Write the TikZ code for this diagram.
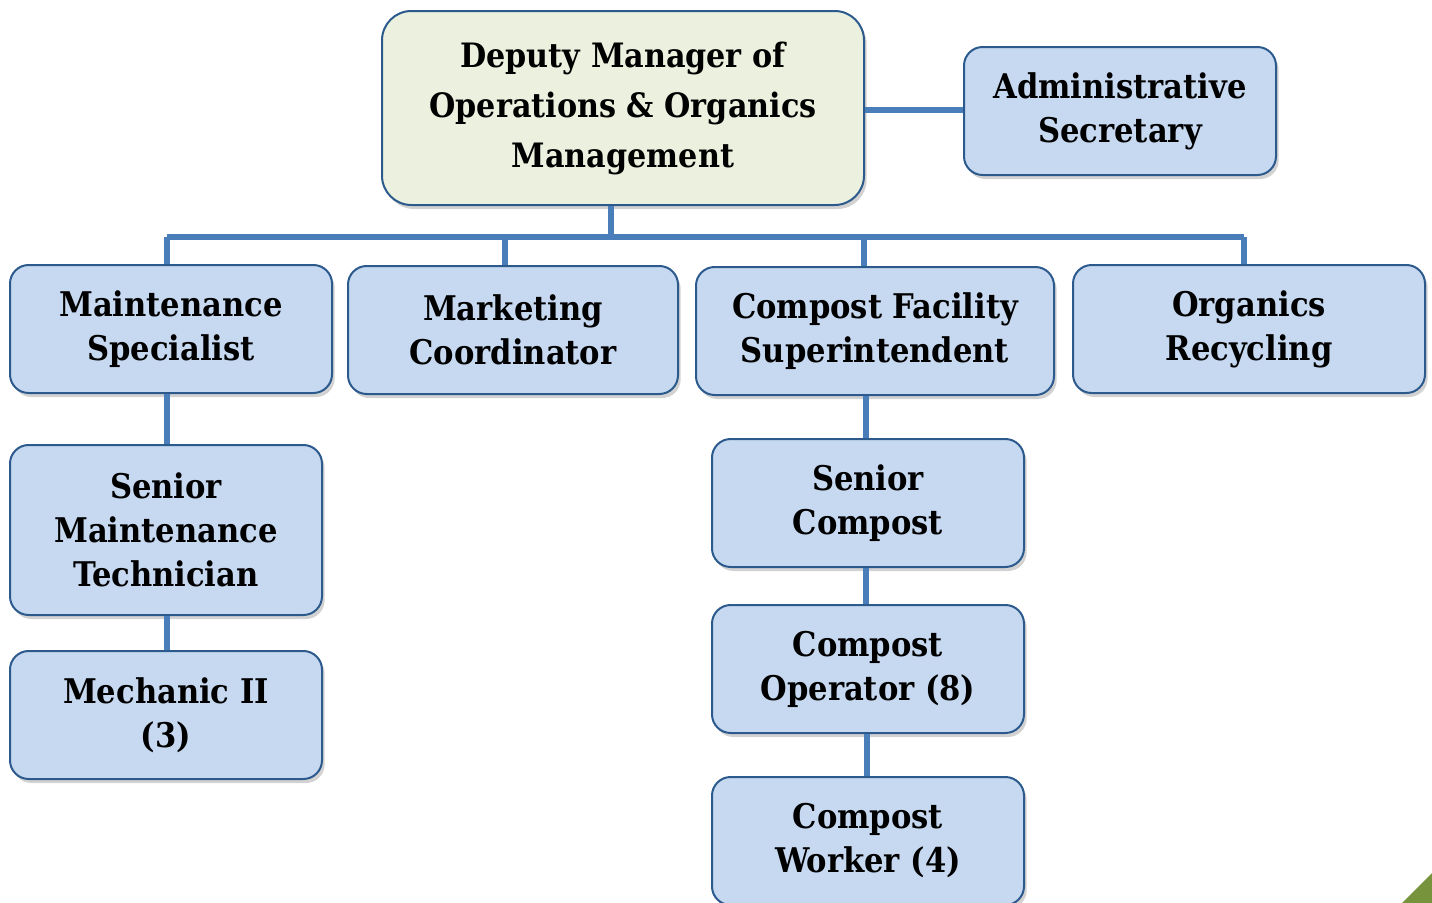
\documentclass[tikz,border=0pt]{standalone}
\usepackage{fontspec}
\setmainfont{DejaVu Serif Condensed}
\usetikzlibrary{shadows}
\definecolor{boxblue}{HTML}{C6D9F1}
\definecolor{boxgreen}{HTML}{EBF1DE}
\definecolor{edgeblue}{HTML}{2C5A8C}
\definecolor{linkblue}{HTML}{4A7EBB}
\definecolor{cornergreen}{HTML}{77933C}
\begin{document}
\begin{tikzpicture}[x=0.75pt,y=-0.75pt,
  box/.style 2 args={draw=edgeblue, line width=1.5pt, fill=boxblue, rounded corners=14pt,
    minimum width=#1*0.75pt, minimum height=#2*0.75pt, align=center, inner sep=0pt,
    font=\fontsize{25.5}{33}\selectfont\bfseries,
    drop shadow={opacity=0.35, shadow xshift=2pt, shadow yshift=-3pt}},
  link/.style={draw=linkblue, line width=4.2pt}]
\clip (0,0) rectangle (1432,903);
\fill[white] (0,0) rectangle (1432,903);
% nodes
\node[box={482}{194}, fill=boxgreen, rounded corners=22pt, font=\fontsize{25.2}{37.5}\selectfont\bfseries] (dm) at (623,108) {Deputy Manager of\\Operations \& Organics\\Management};
\node[box={312}{128}] (as) at (1120,111) {Administrative\\Secretary};
\node[box={322}{128}] (ms) at (171,329) {Maintenance\\Specialist};
\node[box={330}{128}] (mc) at (513,330) {Marketing\\Coordinator};
\node[box={358}{128}] (cf) at (875,331) {Compost Facility\\Superintendent};
\node[box={352}{128}] (or) at (1249,329) {Organics\\Recycling};
\node[box={312}{170}] (smt) at (166,530) {Senior\\Maintenance\\Technician};
\node[box={312}{128}] (mech) at (166,715) {Mechanic II\\(3)};
\node[box={312}{128}] (sc) at (868,503) {Senior\\Compost};
\node[box={312}{128}] (co) at (868,669) {Compost\\Operator (8)};
\node[box={312}{128}] (cw) at (868,841) {Compost\\Worker (4)};
% bus
\coordinate (bus) at (611,237);
\coordinate (busL) at (167,237);
\coordinate (busR) at (1244,237);
\coordinate (busM) at (505,237);
\coordinate (busC) at (864,237);
\draw[link] (dm.south -| bus) -- (bus);
\draw[link] (busL) -- (busR);
\draw[link] (busL) -- (ms.north -| busL);
\draw[link] (busM) -- (mc.north -| busM);
\draw[link] (busC) -- (cf.north -| busC);
\draw[link] (busR) -- (or.north -| busR);
\draw[link] (dm.east |- 0,110) -- (as.west |- 0,110);
\draw[link] (ms.south -| 167,0) -- (smt.north -| 167,0);
\draw[link] (smt.south -| 167,0) -- (mech.north -| 167,0);
\draw[link] (cf.south -| 866,0) -- (sc.north -| 866,0);
\draw[link] (sc.south -| 866,0) -- (co.north -| 866,0);
\draw[link] (co.south -| 867,0) -- (cw.north -| 867,0);
% corner triangle
\fill[cornergreen] (1432,873) -- (1402,903) -- (1432,903) -- cycle;
\end{tikzpicture}
\end{document}
